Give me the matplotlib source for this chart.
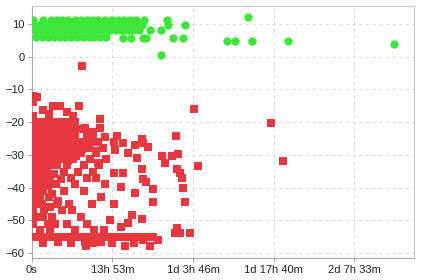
import matplotlib
matplotlib.use('Agg')
import matplotlib.pyplot as plt
from matplotlib.ticker import FixedLocator, FuncFormatter

# elapsed time in hours, value
green_x = [0.2, 1.9, 3.3, 4.3, 5.3, 6.3, 7.5, 8.5, 9.5, 10.5, 11.5, 12.6, 13.9, 14.9, 15.9, 16.9, 17.9, 19.3,
           0.2, 1.2, 2.2, 3.2, 4.2, 5.2, 6.2, 7.2, 8.2, 9.2, 10.2, 11.2, 12.2, 13.2, 14.2, 15.2, 16.2, 17.2, 18.2, 19.0,
           0.5, 1.5, 2.5, 3.5, 4.5, 5.5, 6.5, 7.5, 8.5, 9.5, 10.5, 11.5, 12.5, 13.5, 14.5, 15.5, 16.5, 17.5, 18.5, 20.4, 22.3,
           0.8, 1.8, 2.8, 3.8, 4.8, 5.8, 6.8, 7.8, 8.8, 9.8, 10.8, 11.8, 12.8, 15.8, 17.1, 19.2, 19.7,
           23.3, 23.5, 22.3, 24.4, 26.1, 26.4, 37.2, 33.6, 35.0, 37.9, 44.1, 62.4]
green_y = [11.3, 11.3, 11.3, 11.3, 11.3, 11.3, 11.3, 11.3, 11.3, 11.3, 11.3, 11.3, 11.3, 11.3, 11.3, 11.3, 11.3, 11.3,
           9.8, 9.8, 9.8, 9.8, 9.8, 9.8, 9.8, 9.8, 9.8, 9.8, 9.8, 9.8, 9.8, 9.8, 9.8, 9.8, 9.8, 9.8, 9.8, 9.8,
           8.2, 8.2, 8.2, 8.2, 8.2, 8.2, 8.2, 8.2, 8.2, 8.2, 8.2, 8.2, 8.2, 8.2, 8.2, 8.2, 8.2, 8.2, 8.2, 8.0, 8.0,
           6.1, 6.1, 6.1, 6.1, 6.1, 6.1, 6.1, 6.1, 6.1, 6.1, 6.1, 6.1, 6.1, 5.8, 5.8, 5.8, 5.8,
           11.3, 9.8, 0.6, 5.8, 5.8, 9.8, 12.2, 4.9, 4.9, 4.9, 4.9, 3.7]

red_x = [0.3, 1.0, 0.3, 3.6, 4.8, 8.1, 1.9, 6.0, 0.3, 2.9, 7.2, 11.8,
         0.5, 1.5, 2.6, 3.8, 5.0, 6.2, 7.4, 9.1, 11.8,
         0.4, 1.6, 2.8, 4.0, 5.2, 6.4, 7.6, 8.6, 10.4, 12.6,
         0.3, 1.4, 2.6, 3.8, 5.0, 6.2, 7.4, 9.5, 10.5, 14.7, 19.0, 24.9,
         0.5, 1.7, 2.9, 4.1, 5.3, 6.5, 7.7, 8.9, 10.0, 11.5, 14.1, 15.8, 19.2,
         0.3, 1.4, 2.6, 3.8, 5.0, 6.2, 7.5, 8.7, 9.8, 11.0, 12.2, 17.8, 20.0,
         0.6, 1.8, 3.0, 4.2, 5.4, 6.6, 7.6, 8.5, 11.0, 14.4, 16.5,
         22.5, 24.2, 25.2,
         0.3, 1.5, 2.7, 3.9, 5.1, 6.2, 7.2, 10.0, 11.4, 12.8, 18.2,
         23.0, 28.6,
         0.5, 1.7, 2.9, 4.4, 6.0, 9.0, 11.6, 19.0, 25.0,
         0.3, 1.4, 2.6, 3.8, 5.5, 8.0, 10.5, 14.1, 15.8, 25.6,
         0.6, 1.8, 3.2, 5.0, 6.8, 9.6, 11.0, 19.2, 25.9, 19.6,
         0.3, 1.5, 2.8, 4.2, 7.5, 12.6, 15.3, 26.1, 20.9,
         0.6, 2.0, 3.5, 5.5, 9.0, 17.8,
         0.3, 1.4, 3.0, 4.6, 12.0, 20.9, 26.4,
         0.5, 1.8, 3.2, 4.4, 6.5, 10.4, 14.1,
         0.3, 2.2, 5.2, 7.0, 17.3,
         0.6, 1.9, 3.5, 8.5, 13.5, 19.0, 16.5,
         0.3, 2.8, 4.0, 6.0, 9.5, 15.3, 25.0,
         1.5, 3.2, 7.5, 10.8, 12.5,
         24.7, 25.6, 27.3,
         0.3, 1.5, 2.7, 3.9, 5.1, 6.3, 7.5, 8.7, 9.9, 11.1, 12.3, 13.5, 14.7, 15.9, 17.1, 18.3, 19.6, 20.8,
         21.8, 4.5, 9.2, 12.0, 19.2,
         2.0, 6.8, 10.5, 13.8, 17.6,
         9.3, 16.1, 20.4,
         8.7, 28.0, 41.2, 43.2]
red_y = [-12, -12.3, -14, -15, -15, -15, -16.2, -16.9, -18, -17.5, -18.3, -19,
         -20, -20, -20, -20, -20, -20, -20, -21.7, -21.8,
         -22, -22, -22, -22, -22, -22, -22, -22, -23, -24.5,
         -24, -24, -24, -24, -24, -24, -24, -24, -24, -24.4, -25.1, -24.4,
         -26, -26, -26, -26, -26, -26, -26, -26, -26, -26, -26, -26.3, -26.3,
         -27.8, -27.8, -27.8, -27.8, -27.8, -27.8, -27.8, -28.3, -27.8, -28.8, -27.8, -27, -27.5,
         -29.5, -29.5, -29.5, -29.5, -29.5, -29.5, -30.5, -29.5, -29.5, -28.5, -29.4,
         -30.3, -30.3, -29.7,
         -31.2, -31.2, -31.2, -31.2, -31.2, -32, -31.2, -31.2, -32.5, -31.2, -31,
         -32.5, -33.3,
         -33, -33, -33, -33, -33, -33, -33, -34.3, -34.3,
         -35.2, -35.2, -35.2, -36, -35.2, -35.2, -35.2, -35.5, -35.5, -35.6,
         -37, -37, -37, -37.5, -37, -37, -37, -37.3, -37, -38.2,
         -39, -39, -39.5, -39, -39, -39, -39.8, -40, -40.4,
         -41, -41, -42, -41, -41, -41.6,
         -43, -43, -43, -44, -43, -44.3, -44.3,
         -45, -45, -46, -45, -45, -45, -45,
         -47, -47, -47, -47, -48.3,
         -49, -49, -49, -49, -49.8, -49.5, -50.8,
         -51, -51, -51, -51, -51, -52, -52.4,
         -53, -53, -53, -53, -53,
         -54, -54, -54,
         -55, -55, -55, -55, -55, -55, -55, -55, -55, -55, -55, -55, -55, -55, -55, -55, -55, -55,
         -56, -56.5, -56.5, -56.5, -56,
         -57, -57, -57, -57, -57,
         -58, -58, -58,
         -3, -15.9, -20.2, -31.8]

tick_hours = [0, 50000 / 3600, 100000 / 3600, 150000 / 3600, 200000 / 3600]


def fmt_time(h, pos):
    secs = int(round(h * 3600))
    if secs == 0:
        return '0s'
    d, rem = divmod(secs, 86400)
    hh, rem = divmod(rem, 3600)
    mm = rem // 60
    parts = []
    if d:
        parts.append('%dd' % d)
    parts.append('%dh' % hh)
    parts.append('%dm' % mm)
    return ' '.join(parts)


plt.rcParams['font.family'] = ['Liberation Sans', 'DejaVu Sans']

fig = plt.figure(figsize=(4.22, 2.80), dpi=100)
ax = fig.add_axes([0.075, 0.079, 0.906, 0.9])

ax.scatter(green_x, green_y, s=36, marker='o', color='#3fe63a', linewidths=0, zorder=3)
ax.scatter(red_x, red_y, s=36, marker='s', color='#e8383f', linewidths=0, zorder=3)

ax.set_xlim(0, 65.8)
ax.set_ylim(-61.5, 15.5)
ax.xaxis.set_major_locator(FixedLocator(tick_hours))
ax.xaxis.set_major_formatter(FuncFormatter(fmt_time))
ax.set_yticks([10, 0, -10, -20, -30, -40, -50, -60])

ax.grid(True, color='#dcdcdc', linestyle=(0, (3, 3)), linewidth=0.8, zorder=0)
for s in ax.spines.values():
    s.set_color('#c8c8c8')
ax.spines['left'].set_color('#a8a8a8')
ax.spines['bottom'].set_color('#a8a8a8')
ax.tick_params(axis='both', labelsize=8, colors='#a8a8a8', labelcolor='#222222', length=3, pad=2)

fig.savefig('out.png', dpi=100)
